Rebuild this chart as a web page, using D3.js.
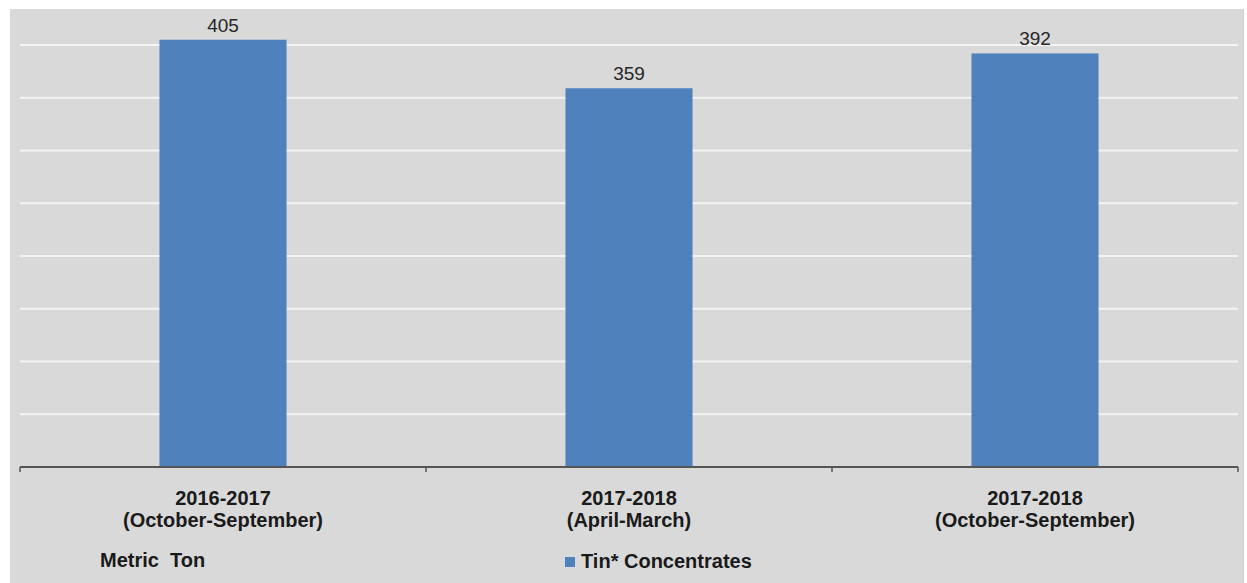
<!DOCTYPE html>
<html>
<head>
<meta charset="utf-8">
<script src="https://cdn.jsdelivr.net/npm/d3@7"></script>
<style>
  html, body { margin: 0; padding: 0; background: #ffffff; }
  svg { display: block; }
  text { font-family: "Liberation Sans", Arial, sans-serif; }
</style>
</head>
<body>
<svg id="chart" width="1247" height="583"></svg>
<script>
const categories = ["2016-2017|(October-September)", "2017-2018|(April-March)", "2017-2018|(October-September)"];
const values = [405, 359, 392];
const yTicks = [50, 100, 150, 200, 250, 300, 350, 400];
const seriesName = "Tin* Concentrates";
const unitLabel = "Metric  Ton";

const svg = d3.select("#chart");

// panel background
svg.append("rect").attr("x", 10).attr("y", 9).attr("width", 1234).attr("height", 574).attr("fill", "#d9d9d9");
svg.append("line").attr("x1", 1243.5).attr("x2", 1243.5).attr("y1", 9).attr("y2", 583).attr("stroke", "#cfcfcf").attr("stroke-width", 1);

const x = d3.scaleBand().domain(categories).range([20, 1238]).paddingInner(0.687).paddingOuter(0.3435);
const y = d3.scaleLinear().domain([0, 400]).range([467, 45]);

// gridlines
svg.append("g").selectAll("line").data(yTicks).join("line")
  .attr("x1", 20).attr("x2", 1238)
  .attr("y1", d => y(d)).attr("y2", d => y(d))
  .attr("stroke", "#f4f4f4").attr("stroke-width", 2);

// bars
svg.append("g").selectAll("rect").data(values).join("rect")
  .attr("x", (d, i) => x(categories[i]))
  .attr("width", x.bandwidth())
  .attr("y", d => y(d))
  .attr("height", d => y(0) - y(d))
  .attr("fill", "#4f81bd");

// value labels
svg.append("g").selectAll("text").data(values).join("text")
  .attr("x", (d, i) => x(categories[i]) + x.bandwidth() / 2)
  .attr("y", d => y(d) - 8)
  .attr("text-anchor", "middle")
  .attr("font-size", 19)
  .attr("fill", "#262626")
  .text(d => d);

// x axis line + ticks at category boundaries
const x0 = x.range()[0];
const bounds = d3.range(categories.length + 1).map(i => x0 + i * x.step());
svg.append("line").attr("x1", 20).attr("x2", 1238).attr("y1", y(0)).attr("y2", y(0))
  .attr("stroke", "#555555").attr("stroke-width", 2);
svg.append("g").selectAll("line").data(bounds).join("line")
  .attr("x1", d => d).attr("x2", d => d)
  .attr("y1", y(0)).attr("y2", y(0) + 5)
  .attr("stroke", "#555555").attr("stroke-width", 1.5);

// category labels
const cl = svg.append("g").selectAll("text").data(categories).join("text")
  .attr("text-anchor", "middle")
  .attr("font-size", 20)
  .attr("font-weight", "bold")
  .attr("fill", "#1a1a1a");
cl.each(function(d) {
  const t = d3.select(this);
  const cx = x(d) + x.bandwidth() / 2;
  d.split("|").forEach((line, j) => {
    t.append("tspan").attr("x", cx).attr("y", 505 + j * 22).text(line);
  });
});

// unit label
svg.append("text").attr("x", 100).attr("y", 567)
  .attr("font-size", 20).attr("font-weight", "bold").attr("fill", "#1a1a1a")
  .style("white-space", "pre").text(unitLabel);

// legend
svg.append("rect").attr("x", 565).attr("y", 557).attr("width", 10).attr("height", 10).attr("fill", "#4f81bd");
svg.append("text").attr("x", 581).attr("y", 568)
  .attr("font-size", 20).attr("font-weight", "bold").attr("fill", "#1a1a1a")
  .text(seriesName);
</script>
</body>
</html>
